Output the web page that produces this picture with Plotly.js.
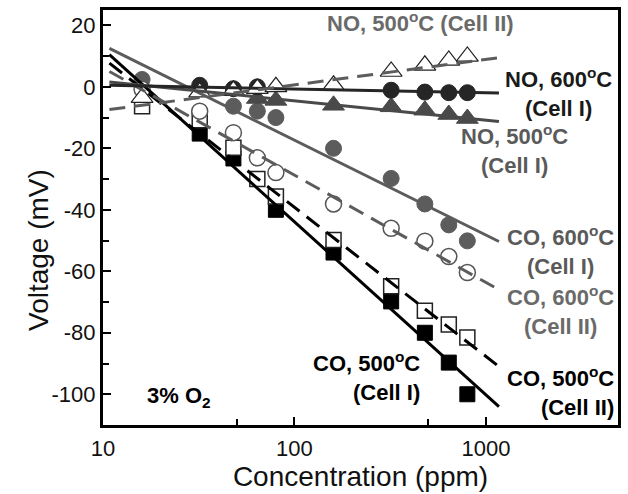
<!DOCTYPE html>
<html>
<head>
<meta charset="utf-8">
<script src="https://cdn.plot.ly/plotly-3.0.1.min.js"></script>
<style>html,body{margin:0;padding:0;background:#fff;}</style>
</head>
<body>
<div id="chart" style="width:628px;height:494px;"></div>
<script>
// ---- data ----
const co500_I_x  = [32, 48, 80, 160, 320, 480, 640, 800];
const co500_I_y  = [-15.2, -23.3, -40, -53.9, -69.8, -80, -89.7, -100];
const co500_II_x = [16, 32, 48, 64, 80, 160, 320, 480, 640, 800];
const co500_II_y = [-6.3, -10.9, -19.8, -30, -35.7, -49.8, -64.9, -72.8, -77.3, -81.5];
const co600_I_x  = [16, 48, 64, 80, 160, 320, 480, 640, 800];
const co600_I_y  = [2.4, -6.3, -7.9, -10, -20, -29.8, -38.1, -44.9, -50.1];
const co600_II_x = [16, 32, 48, 64, 80, 160, 320, 480, 640, 800];
const co600_II_y = [-0.8, -7.9, -14.9, -23.1, -27.9, -38.1, -46, -50.2, -55.2, -60.4];
const no500_I_x  = [64, 80, 160, 320, 480, 640, 800];
const no500_I_y  = [-3.8, -4.4, -6, -6.5, -7.6, -9, -10.3];
const no600_I_x  = [32, 48, 64, 320, 480, 640, 800];
const no600_I_y  = [0.5, -0.6, 0, -1.1, -1.7, -1.9, -1.9];
const no500_II_x = [16, 32, 48, 64, 80, 160, 320, 480, 640, 800];
const no500_II_y = [-3.5, -1.7, -1.2, -0.6, 0, 0.5, 5, 7, 8.6, 9.9];

// fitted lines (end points)
const fitX = [10.8, 1170];
const co500_I_fit  = [10.5, -104];
const co500_II_fit = [7.7, -91];
const co600_I_fit  = [12.5, -50.3];
const co600_II_fit = [5, -66];
const no500_I_fit  = [1.6, -11.3];
const no600_I_fit  = [0.5, -2.0];
const no500_II_fit = [-7.4, 9.5];

const xTicks = [10, 100, 1000];
const xTickText = ['10', '100', '1000'];
const xMinor = [50, 500];
const yTicks = [-100, -80, -60, -40, -20, 0, 20];
const yTickText = ['-100', '-80', '-60', '-40', '-20', '0', '20'];
const yMinor = [-90, -70, -50, -30, -10, 10];

// ---- styles ----
const FONT = 'Liberation Sans, Arial, sans-serif';
const DASH = '16px,9px';

function mk(x, y, symbol, size, fill, lineColor, lineWidth) {
  return {x: x, y: y, type: 'scatter', mode: 'markers', showlegend: false, hoverinfo: 'skip',
    marker: {symbol: symbol, size: size, color: fill, line: {color: lineColor, width: lineWidth}}};
}
function ln(y, color, dash) {
  return {x: fitX, y: y, type: 'scatter', mode: 'lines', showlegend: false, hoverinfo: 'skip',
    line: {color: color, width: 3, dash: dash}};
}

const traces = [
  mk(co500_I_x, co500_I_y, 'square', 15, '#000000', '#000000', 1),
  mk(co500_II_x, co500_II_y, 'square', 15, '#ffffff', '#222222', 1.5),
  mk(co600_I_x, co600_I_y, 'circle', 16, '#5c5c5c', '#5c5c5c', 1),
  mk(co600_II_x, co600_II_y, 'circle', 16, '#ffffff', '#555555', 1.5),
  mk(no500_I_x, no500_I_y, 'triangle-up', 19, '#4a4a4a', '#4a4a4a', 1),
  mk(no600_I_x, no600_I_y, 'circle', 16, '#262626', '#262626', 1),
  mk(no500_II_x, no500_II_y, 'triangle-up', 19, '#ffffff', '#222222', 1.2),
  ln(co500_I_fit, '#000000', 'solid'),
  ln(co500_II_fit, '#000000', DASH),
  ln(co600_I_fit, '#5c5c5c', 'solid'),
  ln(co600_II_fit, '#5c5c5c', DASH),
  ln(no500_I_fit, '#4a4a4a', 'solid'),
  ln(no600_I_fit, '#262626', 'solid'),
  ln(no500_II_fit, '#5c5c5c', DASH)
];

// plot area in px: left 103, right 618, top 10, bottom 425
function px(x) { return (x - 103) / 515; }
function py(y) { return (425 - y) / 415; }
function lab(text, x, y, color, align) {
  return {text: text, x: px(x), y: py(y), xref: 'paper', yref: 'paper', showarrow: false,
    xanchor: 'center', yanchor: 'middle', align: align || 'center',
    font: {family: FONT, size: 22, color: color, weight: 'bold'}};
}

const annotations = [
  lab('NO, 500<sup>o</sup>C (Cell II)', 420, 22, '#6a6a6a'),
  lab('NO, 600<sup>o</sup>C<br>(Cell I)', 558, 92, '#1a1a1a'),
  lab('NO, 500<sup>o</sup>C<br>(Cell I)', 514, 149, '#5a5a5a'),
  lab('CO, 600<sup>o</sup>C<br>(Cell I)', 560, 251, '#5a5a5a'),
  lab('CO, 600<sup>o</sup>C<br>(Cell II)', 560, 310, '#6a6a6a'),
  lab('CO, 500<sup>o</sup>C<br>(Cell I)', 366, 376, '#000000', 'right'),
  lab('CO, 500<sup>o</sup>C<br>(Cell II)', 560, 391, '#000000', 'right'),
  {text: '3% O<sub>2</sub>', x: px(145), y: py(397), xref: 'paper', yref: 'paper', showarrow: false,
   xanchor: 'left', yanchor: 'middle', font: {family: FONT, size: 22, color: '#000', weight: 'bold'}},
  {text: 'Voltage (mV)', x: px(38), y: py(250), xref: 'paper', yref: 'paper', showarrow: false,
   xanchor: 'center', yanchor: 'middle', textangle: -90,
   font: {family: FONT, size: 28, color: '#111'}}
];

const layout = {
  width: 628, height: 494,
  margin: {l: 103, r: 10, t: 10, b: 69, pad: 0},
  paper_bgcolor: '#ffffff', plot_bgcolor: '#ffffff',
  font: {family: FONT, color: '#111'},
  xaxis: {
    type: 'log', range: [1, 3.69], showgrid: false, zeroline: false,
    tickmode: 'array', tickvals: xTicks, ticktext: xTickText,
    ticks: 'inside', ticklen: 8, tickwidth: 2, tickcolor: '#000',
    showline: true, linewidth: 3, linecolor: '#000', mirror: true,
    tickfont: {family: FONT, size: 22, color: '#111'},
    ticklabelstandoff: 2,
    minor: {tickmode: 'array', tickvals: xMinor, ticks: 'inside', ticklen: 6, tickwidth: 2, tickcolor: '#000'},
    title: {text: 'Concentration (ppm)', font: {family: FONT, size: 28, color: '#111'}, standoff: 2}
  },
  yaxis: {
    range: [-110, 25], showgrid: false, zeroline: false,
    tickmode: 'array', tickvals: yTicks, ticktext: yTickText,
    ticks: 'inside', ticklen: 8, tickwidth: 2, tickcolor: '#000',
    showline: true, linewidth: 3, linecolor: '#000', mirror: true,
    tickfont: {family: FONT, size: 22, color: '#111'},
    ticklabelstandoff: 0,
    minor: {tickmode: 'array', tickvals: yMinor, ticks: 'inside', ticklen: 6, tickwidth: 2, tickcolor: '#000'}
  },
  annotations: annotations
};

Plotly.newPlot('chart', traces, layout, {displayModeBar: false, staticPlot: true});
</script>
</body>
</html>
